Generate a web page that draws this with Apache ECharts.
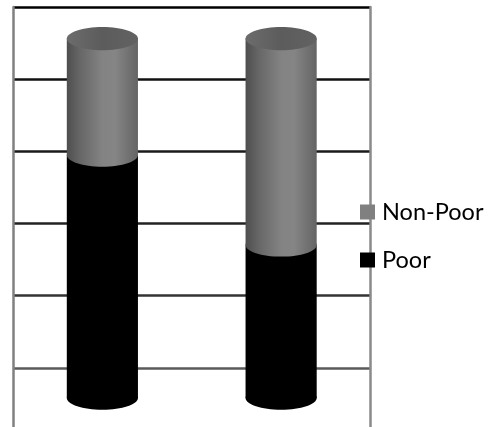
<!DOCTYPE html>
<html>
<head>
<meta charset="utf-8">
<style>html,body{margin:0;padding:0;background:#fff}#chart{width:491px;height:427px}</style>
<script src="https://cdn.jsdelivr.net/npm/echarts@6/dist/echarts.min.js"></script>
</head>
<body>
<div id="chart"></div>
<script>
// Share of households in each group, stacked to 100 for the two columns.
const categories = ['A', 'B'];
const poor = [67.6, 42.6];
const nonPoor = [32.4, 57.4];
const gridTicks = [0, 20, 40, 60, 80, 100, 120];

const WIDTH_RATIO = 0.398; // cylinder width relative to the category band
const CAP_RATIO = 0.165;   // ellipse vertical radius relative to cylinder width

const sideGradient = stops => ({
  type: 'linear', x: 0, y: 0, x2: 1, y2: 0,
  colorStops: stops.map(([offset, color]) => ({ offset, color }))
});
const graySide = sideGradient([[0, '#4e4e4e'], [0.18, '#666'], [0.5, '#838383'], [0.68, '#858585'], [1, '#646464']]);
const grayTop = sideGradient([[0, '#6c6c6c'], [0.5, '#5c5c5c'], [1, '#626262']]);
const blackSide = '#000';

function cylinder(side, top) {
  return function (params, api) {
    const i = api.value(0);
    const x = api.coord([i, 0])[0];
    const low = api.coord([i, api.value(1)])[1];
    const high = api.coord([i, api.value(2)])[1];
    const w = api.size([1, 0])[0] * WIDTH_RATIO;
    const ry = w * CAP_RATIO;
    const children = [
      { type: 'rect', shape: { x: x - w / 2, y: high, width: w, height: low - high }, style: { fill: side } },
      { type: 'ellipse', shape: { cx: x, cy: low, rx: w / 2, ry }, style: { fill: side } }
    ];
    if (top) {
      children.push({ type: 'ellipse', shape: { cx: x, cy: high, rx: w / 2, ry }, style: { fill: top } });
    }
    return { type: 'group', children };
  };
}

const chart = echarts.init(document.getElementById('chart'));
chart.setOption({
  animation: false,
  backgroundColor: '#fff',
  // The frame runs past the lower edge of the page, so it is not fitted inside it.
  grid: { left: 13, right: 120.5, top: 7, height: 433, outerBoundsMode: 'none' },
  legend: {
    data: ['Non-Poor', 'Poor'],
    orient: 'vertical',
    left: 360,
    top: 200,
    padding: 0,
    icon: 'rect',
    itemWidth: 15,
    itemHeight: 15,
    itemGap: 24,
    textStyle: { fontFamily: 'Lato', fontSize: 23.5, color: '#000', padding: [0, 0, 0, 2] }
  },
  xAxis: { type: 'category', data: categories, show: false },
  yAxis: [
    {
      type: 'value',
      min: gridTicks[0],
      max: gridTicks[gridTicks.length - 1],
      interval: 20,
      axisLabel: { show: false },
      axisTick: { show: false },
      axisLine: { show: true, lineStyle: { color: '#808080', width: 2.5 } },
      splitLine: {
        show: true,
        lineStyle: { width: 2.5, color: ['#666', '#5a5a5a', '#333', '#222', '#1a1a1a', '#111', '#000'] }
      }
    },
    {
      // Scale of the cylinders: the floor sits above the lower edge of the frame.
      type: 'value',
      position: 'right',
      min: -11.7,
      max: 108.8,
      axisLabel: { show: false },
      axisTick: { show: false },
      axisLine: { show: true, lineStyle: { color: '#8a8a8a', width: 2.5 } },
      splitLine: { show: false }
    }
  ],
  series: [
    {
      name: 'Poor',
      type: 'custom',
      yAxisIndex: 1,
      itemStyle: { color: '#000' },
      renderItem: cylinder(blackSide, null),
      encode: { x: 0, y: [1, 2] },
      data: categories.map((c, i) => [i, 0, poor[i]])
    },
    {
      name: 'Non-Poor',
      type: 'custom',
      yAxisIndex: 1,
      itemStyle: { color: '#808080' },
      renderItem: cylinder(graySide, grayTop),
      encode: { x: 0, y: [1, 2] },
      data: categories.map((c, i) => [i, poor[i], poor[i] + nonPoor[i]])
    }
  ]
});
</script>
</body>
</html>
